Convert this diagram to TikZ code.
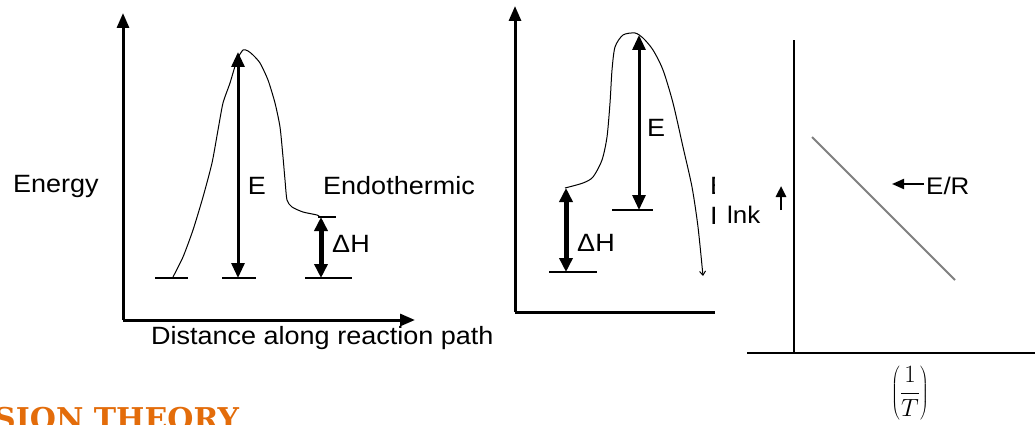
\documentclass[tikz,border=0pt]{standalone}
\usepackage{fontspec}
\setmainfont[FakeStretch=1.08]{Liberation Sans}
\newfontfamily\titlefont{DejaVu Serif}
\usetikzlibrary{arrows.meta}
\definecolor{titleorange}{HTML}{E36C0A}
\tikzset{
  axis/.style={line width=3pt, -{Triangle[width=12pt,length=15pt]}},
  plainaxis/.style={line width=2pt},
  curve/.style={line width=1pt},
  earrow/.style={line width=3pt, {Triangle[width=13pt,length=15pt]}-{Triangle[width=13pt,length=15pt]}},
  harrow/.style={line width=5pt, {Triangle[width=13pt,length=14pt]}-{Triangle[width=13pt,length=14pt]}},
  level/.style={line width=1.5pt},
  lbl/.style={font=\fontsize{25}{28}\selectfont, inner sep=0pt},
  smalllbl/.style={font=\fontsize{24}{26}\selectfont, inner sep=0pt},
}
\begin{document}
\begin{tikzpicture}[x=1pt,y=-1pt]
\useasboundingbox (0,0) rectangle (1035,425);
\fill[white] (0,0) rectangle (1035,425);
% ---------- panel 1 ----------
\coordinate (o1) at (123,320);
\coordinate (y1) at (123,13);
\coordinate (x1) at (415,320);
\draw[axis] (o1) -- (y1);
\draw[axis] (o1) -- (x1);
\node[lbl, anchor=west] (energy) at (13,186) {Energy};
\node[lbl, anchor=west] (dist) at (151,338) {Distance along reaction path};
\node[lbl, anchor=west] (endo) at (323,186) {Endothermic};
\draw[curve] plot[smooth, tension=0.4] coordinates {(173,277) (183,257) (193,230) (203,197) (212,163) (218,130) (223,103) (230,83) (237,60) (243,50) (248,51) (253,55) (260,63) (268,80) (275,103) (280,127) (283,157) (285,180) (287,200) (292,207) (303,212) (317,215) (320,217)};
\coordinate (l1a) at (155,278); \coordinate (l1b) at (188,278);
\coordinate (l2a) at (222,278); \coordinate (l2b) at (256,278);
\coordinate (l3a) at (305,278); \coordinate (l3b) at (352,278);
\coordinate (l4a) at (318,217); \coordinate (l4b) at (336,217);
\draw[level] (l1a) -- (l1b);
\draw[level] (l2a) -- (l2b);
\draw[level] (l3a) -- (l3b);
\draw[level] (l4a) -- (l4b);
\coordinate (e1b) at (238,278); \coordinate (e1t) at (238,52);
\draw[earrow] (e1b) -- (e1t);
\node[lbl] (E1) at (257,186) {E};
\coordinate (h1b) at (321,278); \coordinate (h1t) at (321,217);
\draw[harrow] (h1b) -- (h1t);
\node[lbl] (H1) at (351,244) {ΔH};
% ---------- panel 2 ----------
\coordinate (o2) at (515,312);
\coordinate (y2) at (515,6);
\coordinate (x2) at (730,312);
\draw[axis] (o2) -- (y2);
\draw[line width=3pt] (o2) -- (x2);
\draw[curve, -{Straight Barb[length=4pt,width=6pt]}] plot[smooth, tension=0.45] coordinates {(565,188) (583,183) (593,177) (602,160) (607,137) (610,103) (612,70) (615,47) (623,35) (635,33) (643,38) (653,50) (663,70) (673,103) (683,147) (692,187) (698,227) (703,276)};
\coordinate (m1a) at (549,272); \coordinate (m1b) at (597,272);
\coordinate (m2a) at (612,210); \coordinate (m2b) at (653,210);
\draw[level] (m1a) -- (m1b);
\draw[level] (m2a) -- (m2b);
\coordinate (h2b) at (566,272); \coordinate (h2t) at (566,188);
\draw[harrow] (h2b) -- (h2t);
\node[lbl] (H2) at (596,243) {ΔH};
\coordinate (e2b) at (639,210); \coordinate (e2t) at (639,35);
\draw[earrow] (e2t) -- (e2b);
\node[lbl] (E2) at (656,128) {E};
\begin{scope}
\clip (700,0) rectangle (715,425);
\node[lbl, anchor=west] (exo1) at (710,186) {E};
\node[lbl, anchor=west] (exo2) at (710,216) {I};
\end{scope}
% ---------- panel 3 ----------
\fill[white] (715,0) rectangle (1035,425);
\coordinate (o3) at (794,353);
\coordinate (y3) at (794,40);
\coordinate (xl) at (747,353);
\coordinate (xr) at (1035,353);
\draw[plainaxis] (o3) -- (y3);
\draw[plainaxis] (xl) -- (xr);
\coordinate (s1) at (812,137); \coordinate (s2) at (955,280);
\draw[line width=2pt, gray] (s1) -- (s2);
\node[smalllbl, anchor=west] (ER) at (926,186) {E/R};
\coordinate (era) at (924,184); \coordinate (erb) at (892,184);
\draw[line width=2pt, -{Triangle[width=10pt,length=12pt]}] (era) -- (erb);
\node[smalllbl, anchor=west] (lnk) at (727,215) {lnk};
\coordinate (ua) at (781,210); \coordinate (ub) at (781,186);
\draw[line width=2.5pt, -{Triangle[width=10pt,length=11pt]}] (ua) -- (ub);
\node[inner sep=0pt, font=\fontsize{31}{35}\selectfont] (frac) at (910,393) {$\displaystyle\left(\frac{1}{T}\right)$};
% ---------- title ----------
\node[anchor=base west, inner sep=0pt, text=titleorange, font=\titlefont\bfseries\fontsize{30}{34}\selectfont] (title) at (-6,429) {SION THEORY};
\end{tikzpicture}
\end{document}
